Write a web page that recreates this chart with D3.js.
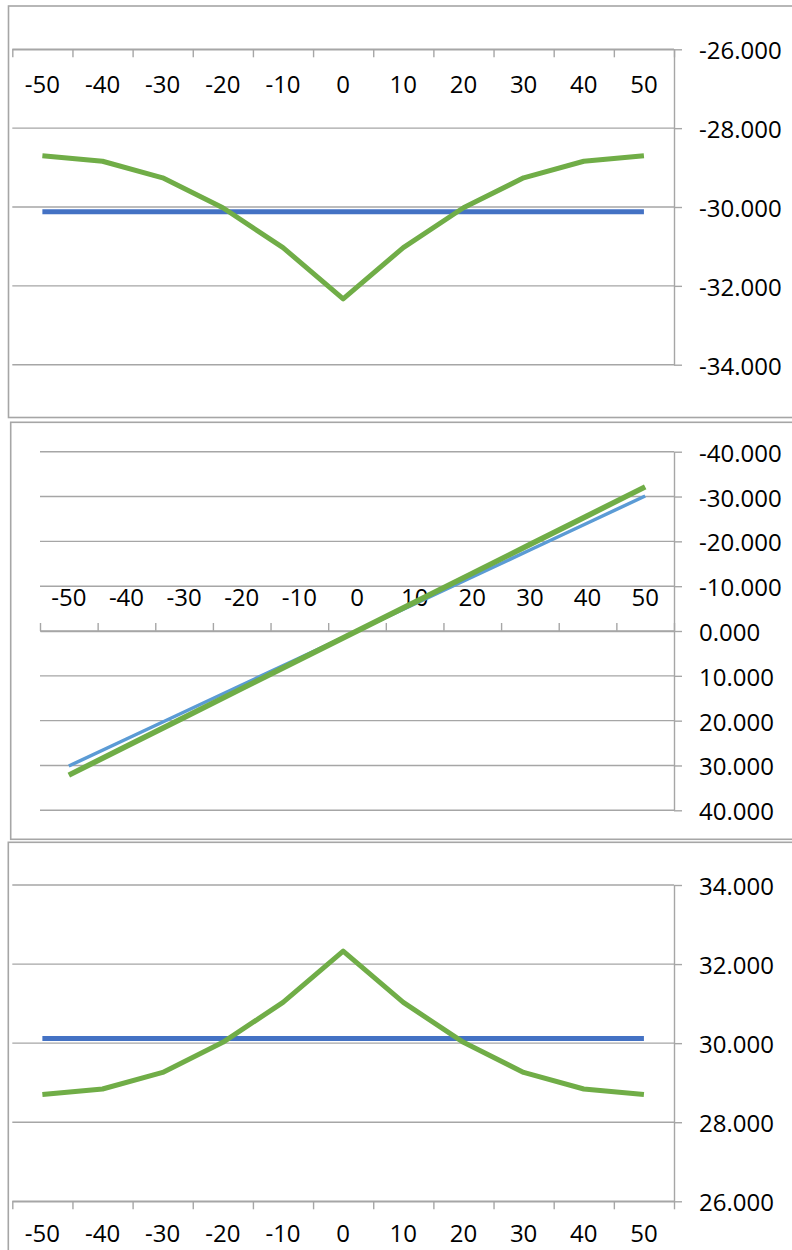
<!DOCTYPE html>
<html>
<head>
<meta charset="utf-8">
<script src="https://cdn.jsdelivr.net/npm/d3@7"></script>
<style>
  html, body { margin: 0; padding: 0; background: #ffffff; }
  svg { display: block; }
  text { font-family: "Open Sans", "Noto Sans", sans-serif; fill: #000; }
</style>
</head>
<body>
<svg id="chart" width="792" height="1250"></svg>
<script>
// ---------- data ----------
const categories = ["-50", "-40", "-30", "-20", "-10", "0", "10", "20", "30", "40", "50"];

const topBlue  = [-30.12, -30.12, -30.12, -30.12, -30.12, -30.12, -30.12, -30.12, -30.12, -30.12, -30.12];
const topGreen = [-28.70, -28.84, -29.26, -30.02, -31.03, -32.33, -31.03, -30.02, -29.26, -28.84, -28.70];
const topTicks = [-26, -28, -30, -32, -34];

const midBlue  = [30.12, 24.10, 18.07, 12.05, 6.02, 0.00, -6.02, -12.05, -18.07, -24.10, -30.12];
const midGreen = [32.15, 25.72, 19.29, 12.86, 6.43, 0.00, -6.43, -12.86, -19.29, -25.72, -32.15];
const midTicks = [-40, -30, -20, -10, 0, 10, 20, 30, 40];

const botBlue  = [30.12, 30.12, 30.12, 30.12, 30.12, 30.12, 30.12, 30.12, 30.12, 30.12, 30.12];
const botGreen = [28.70, 28.84, 29.26, 30.02, 31.03, 32.33, 31.03, 30.02, 29.26, 28.84, 28.70];
const botTicks = [34, 32, 30, 28, 26];

// ---------- styling / layout ----------
const GREEN = "#70AD47";
const GRID = "#a6a6a6";
const FONT = 24;
const fmt = d3.formatLocale({decimal: ".", thousands: ",", grouping: [3], currency: ["", ""], minus: "-"}).format(".3f");

const svg = d3.select("#chart");

const panels = [
  { box: [8.5, 6, 800, 411.5], x: [12.3, 674], yDomain: [-34, -26], yRange: [364.7, 49.3],
    ticks: topTicks, blue: topBlue, green: topGreen, blueColor: "#4472C4", blueW: 5, greenW: 5,
    axisAt: -26, tickDir: 1, labelOff: 34 },
  { box: [10.7, 422.3, 800, 417], x: [40, 674], yDomain: [-40, 40], yRange: [451.7, 810.3],
    ticks: midTicks, blue: midBlue, green: midGreen, blueColor: "#5B9BD5", blueW: 3.5, greenW: 5.5,
    axisAt: 0, tickDir: -1, labelOff: -34.3 },
  { box: [8.3, 842.3, 800, 420], x: [12.3, 674], yDomain: [26, 34], yRange: [1201.3, 885],
    ticks: botTicks, blue: botBlue, green: botGreen, blueColor: "#4472C4", blueW: 5, greenW: 5,
    axisAt: 26, tickDir: 1, labelOff: 31.5 }
];

panels.forEach(p => {
  const g = svg.append("g");

  // chart border
  g.append("rect")
    .attr("x", p.box[0]).attr("y", p.box[1])
    .attr("width", p.box[2]).attr("height", p.box[3])
    .attr("fill", "none").attr("stroke", GRID).attr("stroke-width", 1.6);

  const x = d3.scaleBand().domain(categories).range(p.x).paddingInner(0).paddingOuter(0);
  const xIdx = d3.scaleLinear().domain([0, categories.length]).range(p.x);
  const y = d3.scaleLinear().domain(p.yDomain).range(p.yRange);

  // gridlines
  g.append("g").selectAll("line").data(p.ticks).join("line")
    .attr("x1", p.x[0]).attr("x2", p.x[1])
    .attr("y1", d => y(d)).attr("y2", d => y(d))
    .attr("stroke", GRID).attr("stroke-width", 1.4);

  // value axis on the right
  const yAxis = d3.axisRight(y).tickValues(p.ticks).tickFormat(fmt)
    .tickSize(8).tickSizeOuter(0).tickPadding(17);
  const ya = g.append("g").attr("transform", `translate(${p.x[1]},0)`).call(yAxis);
  ya.selectAll("path, line").attr("stroke", GRID).attr("stroke-width", 1.4);
  ya.selectAll("text").attr("font-size", FONT).attr("font-family", "'Open Sans', sans-serif")
    .attr("fill", "#000").attr("dy", null).attr("dominant-baseline", "central");

  // category axis: tick marks between categories
  const ay = y(p.axisAt);
  const tickAxis = (p.tickDir > 0 ? d3.axisBottom(xIdx) : d3.axisTop(xIdx))
    .tickValues(d3.range(categories.length + 1)).tickFormat("")
    .tickSize(8).tickSizeOuter(0);
  const xt = g.append("g").attr("transform", `translate(0,${ay})`).call(tickAxis);
  xt.selectAll("path, line").attr("stroke", GRID).attr("stroke-width", 1.4);

  // category labels
  const labAxis = d3.axisBottom(x).tickSize(0).tickPadding(0);
  const xl = g.append("g").attr("transform", `translate(0,${ay + p.labelOff})`).call(labAxis);
  xl.select(".domain").remove();
  xl.selectAll("text").attr("font-size", FONT).attr("font-family", "'Open Sans', sans-serif")
    .attr("fill", "#000").attr("y", 0).attr("dy", null).attr("dominant-baseline", "central");

  // series lines
  const line = d3.line()
    .x((d, i) => x(categories[i]) + x.bandwidth() / 2)
    .y(d => y(d));

  g.append("path").datum(p.blue).attr("d", line)
    .attr("fill", "none").attr("stroke", p.blueColor).attr("stroke-width", p.blueW)
    .attr("stroke-linejoin", "round");
  g.append("path").datum(p.green).attr("d", line)
    .attr("fill", "none").attr("stroke", GREEN).attr("stroke-width", p.greenW)
    .attr("stroke-linejoin", "round");
});
</script>
</body>
</html>
